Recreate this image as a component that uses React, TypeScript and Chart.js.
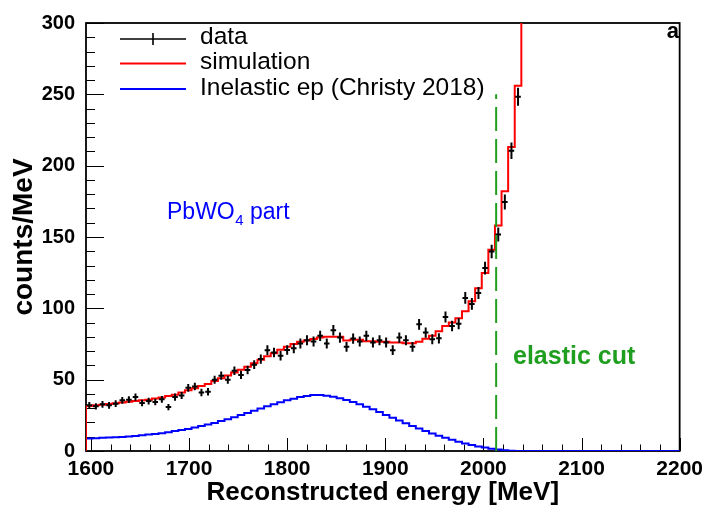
import React, { useEffect, useRef } from 'react';
import { Chart, registerables } from 'chart.js';

Chart.register(...registerables);

const FONT = '"Liberation Sans", Arial, Helvetica, sans-serif';

// Binning of the histograms (MeV)
const BIN_START = 1595;
const BIN_END = 2200;
const BIN_COUNT = 90;
const BIN_WIDTH = (BIN_END - BIN_START) / BIN_COUNT;

const X_TICKS = [1600, 1700, 1800, 1900, 2000, 2100, 2200];
const Y_TICKS = [0, 50, 100, 150, 200, 250, 300];

// data (counts/MeV) per bin, starting at BIN_START
const dataCounts = [
  32, 31.3, 32.7, 32, 33.2, 35.5, 36, 37.8, 33.6, 35,
  34.3, 36.2, 30.8, 37.8, 38.9, 44.3, 45.2, 41, 41.5, 50,
  52.8, 50, 56.3, 53.3, 56.8, 60.5, 64.4, 70.7, 69, 66.8,
  70.8, 72, 75.3, 77.7, 76.7, 80.7, 75.3, 84.6, 79.5, 73,
  78.8, 76.7, 80.7, 76, 77.7, 76, 70.7, 79.5, 77.7, 73,
  88.8, 83, 78.4, 79, 93.9, 87.6, 89.2, 107.3, 103.1, 110.8,
  128.2, 139.8, 151.8, 174.5, 210.5, 248.3,
];

const dataErrors = [
  2.3, 2.2, 2.3, 2.3, 2.3, 2.4, 2.4, 2.5, 2.3, 2.4,
  2.3, 2.4, 2.2, 2.5, 2.5, 2.7, 2.7, 2.6, 2.6, 2.8,
  2.9, 2.8, 3.0, 2.9, 3.0, 3.1, 3.2, 3.4, 3.3, 3.3,
  3.4, 3.4, 3.5, 3.5, 3.5, 3.6, 3.5, 3.7, 3.6, 3.4,
  3.6, 3.5, 3.6, 3.5, 3.5, 3.5, 3.4, 3.6, 3.5, 3.4,
  3.8, 3.6, 3.5, 3.6, 3.9, 3.7, 3.8, 4.1, 4.1, 4.2,
  4.5, 4.7, 4.9, 5.3, 5.8, 6.3,
];

const simCounts = [
  31.5, 32, 32.5, 33, 33.5, 34, 34.5, 35, 35.5, 36,
  36.8, 37.5, 38.5, 39.5, 41, 42.5, 44, 45.5, 47, 49,
  51, 53, 55, 57, 59, 61.5, 64, 66.5, 68.5, 71,
  73, 75, 76.5, 77.5, 78.5, 79.5, 80, 80, 80, 77.5,
  78, 78, 77, 77, 76.5, 76.5, 76, 76, 75.5, 75.5,
  76.5, 78.6, 80.7, 84, 87.6, 90, 93, 98, 105, 114,
  124.7, 141, 158, 182, 213, 256, 320,
];

const inelasticCounts = [
  8.8, 9.0, 9.2, 9.4, 9.6, 9.9, 10.2, 10.5, 11, 11.5,
  12, 12.5, 13.2, 14, 14.7, 15.5, 16.5, 17.5, 18.5, 19.7,
  21, 22.3, 23.7, 25.2, 26.7, 28.2, 29.8, 31.3, 32.8, 34.2,
  35.5, 36.7, 37.8, 38.5, 39.2, 39.2, 38.8, 38, 37, 35.8,
  34.4, 32.8, 31, 29.2, 27.3, 25.3, 23.3, 21.4, 19.5, 17.6,
  15.8, 14, 12.3, 10.7, 9.2, 7.8, 6.5, 5.3, 4.2, 3.2,
  2.4, 1.6, 1.0, 0.5, 0.2, 0, 0, 0, 0, 0,
  0, 0, 0, 0, 0, 0, 0, 0, 0, 0,
  0, 0, 0, 0, 0, 0, 0, 0, 0, 0,
];

const ELASTIC_CUT = 2013;
const ELASTIC_CUT_TOP = 250;

const legendLabels = ['data', 'simulation', 'Inelastic ep (Christy 2018)'];

const GREEN = '#1f9e1f';

function histPoints(vals: number[]) {
  const pts: { x: number; y: number }[] = [{ x: BIN_START, y: 0 }];
  vals.forEach((v, i) => pts.push({ x: BIN_START + i * BIN_WIDTH, y: v }));
  pts.push({ x: BIN_START + vals.length * BIN_WIDTH, y: vals[vals.length - 1] });
  return pts;
}

function minorTicks(majors: number[], sub: number) {
  const out: number[] = [];
  for (let i = 0; i < majors.length - 1; i++) {
    const step = (majors[i + 1] - majors[i]) / sub;
    for (let j = 1; j < sub; j++) out.push(majors[i] + j * step);
  }
  return out;
}

const framePlugin = {
  id: 'rootFrame',
  beforeDatasetsDraw(chart: any) {
    const { ctx, chartArea: a, scales } = chart;
    const xs = scales.x;
    const ys = scales.y;
    ctx.save();
    ctx.strokeStyle = '#000';
    ctx.lineWidth = 1;
    X_TICKS.forEach((v) => {
      const px = Math.round(xs.getPixelForValue(v)) + 0.5;
      ctx.beginPath();
      ctx.moveTo(px, a.bottom);
      ctx.lineTo(px, a.bottom - 13);
      ctx.stroke();
    });
    minorTicks(X_TICKS, 5).forEach((v) => {
      const px = Math.round(xs.getPixelForValue(v)) + 0.5;
      ctx.beginPath();
      ctx.moveTo(px, a.bottom);
      ctx.lineTo(px, a.bottom - 6.5);
      ctx.stroke();
    });
    Y_TICKS.forEach((v) => {
      const py = Math.round(ys.getPixelForValue(v)) + 0.5;
      ctx.beginPath();
      ctx.moveTo(a.left, py);
      ctx.lineTo(a.left + 18, py);
      ctx.stroke();
    });
    minorTicks(Y_TICKS, 5).forEach((v) => {
      const py = Math.round(ys.getPixelForValue(v)) + 0.5;
      ctx.beginPath();
      ctx.moveTo(a.left, py);
      ctx.lineTo(a.left + 9, py);
      ctx.stroke();
    });
    ctx.lineWidth = 1.8;
    ctx.strokeRect(a.left, a.top, a.right - a.left, a.bottom - a.top);
    ctx.restore();
  },
  afterDatasetsDraw(chart: any) {
    const { ctx, chartArea: a, scales } = chart;
    const xs = scales.x;
    const ys = scales.y;
    ctx.save();
    ctx.beginPath();
    ctx.rect(a.left, a.top, a.right - a.left, a.bottom - a.top);
    ctx.clip();
    ctx.strokeStyle = '#000';
    ctx.lineWidth = 2;
    dataCounts.forEach((v, i) => {
      const c = BIN_START + (i + 0.5) * BIN_WIDTH;
      const px = xs.getPixelForValue(c);
      const x0 = xs.getPixelForValue(c - 0.42 * BIN_WIDTH);
      const x1 = xs.getPixelForValue(c + 0.42 * BIN_WIDTH);
      const py = ys.getPixelForValue(v);
      const y0 = ys.getPixelForValue(v - dataErrors[i]);
      const y1 = ys.getPixelForValue(v + dataErrors[i]);
      ctx.beginPath();
      ctx.moveTo(x0, py);
      ctx.lineTo(x1, py);
      ctx.moveTo(px, y0);
      ctx.lineTo(px, y1);
      ctx.stroke();
    });
    ctx.strokeStyle = GREEN;
    ctx.lineWidth = 2;
    ctx.setLineDash([24, 8]);
    const gx = xs.getPixelForValue(ELASTIC_CUT);
    ctx.beginPath();
    ctx.moveTo(gx, ys.getPixelForValue(0));
    ctx.lineTo(gx, ys.getPixelForValue(ELASTIC_CUT_TOP));
    ctx.stroke();
    ctx.setLineDash([]);
    ctx.restore();
  },
  afterDraw(chart: any) {
    const { ctx } = chart;
    ctx.save();
    const rows = [
      { y: 39, color: '#000', w: 1.6, cross: true, base: 44 },
      { y: 63.5, color: '#ff0000', w: 2, cross: false, base: 69 },
      { y: 89, color: '#0000ff', w: 2, cross: false, base: 95 },
    ];
    rows.forEach((r, i) => {
      ctx.strokeStyle = r.color;
      ctx.lineWidth = r.w;
      ctx.beginPath();
      ctx.moveTo(120, r.y);
      ctx.lineTo(186, r.y);
      if (r.cross) {
        ctx.moveTo(153, r.y - 6);
        ctx.lineTo(153, r.y + 6);
      }
      ctx.stroke();
      ctx.fillStyle = '#000';
      ctx.font = `24.5px ${FONT}`;
      ctx.textBaseline = 'alphabetic';
      ctx.textAlign = 'left';
      ctx.fillText(legendLabels[i], 200, r.base);
    });
    ctx.font = `bold 22px ${FONT}`;
    ctx.textAlign = 'right';
    ctx.fillText('a', 679, 38);
    ctx.textAlign = 'left';
    ctx.fillStyle = '#0000ff';
    ctx.font = `23px ${FONT}`;
    const t1 = 'PbWO';
    ctx.fillText(t1, 167, 219);
    let xx = 167 + ctx.measureText(t1).width;
    ctx.font = `15px ${FONT}`;
    ctx.fillText('4', xx + 0.5, 225);
    xx += ctx.measureText('4').width + 0.5;
    ctx.font = `23px ${FONT}`;
    ctx.fillText(' part', xx, 219);
    ctx.fillStyle = GREEN;
    ctx.font = `bold 25px ${FONT}`;
    ctx.fillText('elastic cut', 513, 364);
    ctx.restore();
  },
};

export default function App() {
  const ref = useRef<HTMLCanvasElement | null>(null);
  useEffect(() => {
    document.body.style.margin = '0';
    const canvas = ref.current;
    if (!canvas) return;
    const tickFontX = { family: FONT, size: 21, weight: 'bold' as const };
    const tickFontY = { family: FONT, size: 20, weight: 'bold' as const };
    const titleFontX = { family: FONT, size: 26, weight: 'bold' as const, lineHeight: 1.2 };
    const titleFontY = { family: FONT, size: 28, weight: 'bold' as const, lineHeight: 1.2 };
    const chart = new Chart(canvas, {
      type: 'line',
      data: {
        datasets: [
          {
            label: 'simulation',
            data: histPoints(simCounts),
            borderColor: '#ff0000',
            borderWidth: 2,
            stepped: 'before',
            pointRadius: 0,
            fill: false,
          },
          {
            label: 'Inelastic ep (Christy 2018)',
            data: histPoints(inelasticCounts),
            borderColor: '#0000ff',
            borderWidth: 2,
            stepped: 'before',
            pointRadius: 0,
            fill: false,
          },
          {
            label: 'data',
            data: dataCounts.map((v, i) => ({ x: BIN_START + (i + 0.5) * BIN_WIDTH, y: v })),
            showLine: false,
            pointRadius: 0,
            borderColor: '#000',
          },
        ],
      },
      options: {
        responsive: false,
        animation: false,
        devicePixelRatio: 1,
        layout: { padding: { left: 0, right: 25, top: 19, bottom: 0 } },
        plugins: { legend: { display: false }, tooltip: { enabled: false } },
        scales: {
          x: {
            type: 'linear',
            min: BIN_START,
            max: BIN_END,
            afterBuildTicks: (s: any) => {
              s.ticks = X_TICKS.map((v) => ({ value: v }));
            },
            afterFit: (s: any) => {
              s.height = 58;
            },
            grid: { display: false, drawTicks: false },
            border: { display: false },
            ticks: {
              font: tickFontX,
              color: '#000',
              padding: 6,
              maxRotation: 0,
              autoSkip: false,
              callback: (v: any) => String(v),
            },
            title: {
              display: true,
              text: 'Reconstructed energy [MeV]',
              font: titleFontX,
              color: '#000',
              padding: { top: 0, bottom: 1 },
            },
          },
          y: {
            type: 'linear',
            min: 0,
            max: 300,
            afterBuildTicks: (s: any) => {
              s.ticks = Y_TICKS.map((v) => ({ value: v }));
            },
            afterFit: (s: any) => {
              s.width = 86;
            },
            grid: { display: false, drawTicks: false },
            border: { display: false },
            ticks: {
              font: tickFontY,
              color: '#000',
              padding: 11,
              autoSkip: false,
              callback: (v: any) => String(v),
            },
            title: {
              display: true,
              text: 'counts/MeV',
              font: titleFontY,
              color: '#000',
              padding: { top: 7, bottom: 0 },
            },
          },
        },
      },
      plugins: [framePlugin],
    } as any);
    return () => chart.destroy();
  }, []);
  return <canvas ref={ref} width={709} height={509} style={{ display: 'block' }} />;
}
